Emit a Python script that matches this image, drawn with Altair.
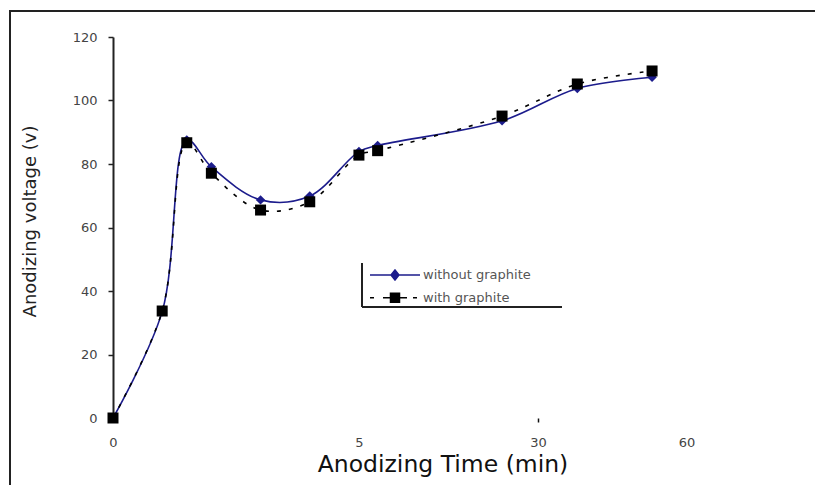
import altair as alt
import pandas as pd

# ---- data ----
# positions of the samples along the (non-linear) time axis, as drawn
time_pos = [0, 1, 1.5, 2, 3, 4, 5, 5.38, 7.91, 9.44, 10.96]
without_graphite = [0, 33.5, 87.6, 79.1, 68.7, 69.9, 83.9, 85.8, 93.6, 103.8, 107.3]
with_graphite = [0, 33.7, 86.7, 77.1, 65.5, 68.1, 82.8, 84.2, 95.1, 105.2, 109.3]
series_names = ["without graphite", "with graphite"]
x_tick_pos = [0, 5, 8.64, 11.66]
x_tick_labels = ["0", "5", "30", "60"]
y_ticks = [0, 20, 40, 60, 80, 100, 120]

NAVY = "#1c1c8c"
FONT = "DejaVu Sans"

rows = []
for t, a, b in zip(time_pos, without_graphite, with_graphite):
    rows.append({"t": t, "v": a, "series": series_names[0]})
    rows.append({"t": t, "v": b, "series": series_names[1]})
df = pd.DataFrame(rows)

label_expr = " : ".join(
    f"abs(datum.value - {p}) < 0.01 ? '{l}'" for p, l in zip(x_tick_pos, x_tick_labels)
) + " : ''"

x_enc = alt.X(
    "t:Q",
    scale=alt.Scale(domain=[0, 13.5], nice=False, zero=False),
    axis=alt.Axis(
        values=x_tick_pos,
        labelExpr=label_expr,
        labelFlush=False,
        domain=False,
        grid=False,
        tickSize=4,
        tickWidth=1.5,
        tickColor={"condition": {"test": "abs(datum.value - 8.64) < 0.01", "value": "#111"},
                   "value": "transparent"},
        labelFont=FONT,
        labelFontSize=13,
        labelColor="#444",
        labelPadding=14,
        title="Anodizing Time (min)",
        titleFont=FONT,
        titleFontSize=23.5,
        titleFontWeight="normal",
        titleColor="#111",
        titleX=329.5,
        titleY=53.7,
        titleAlign="center",
        titleBaseline="alphabetic",
    ),
)
y_enc = alt.Y(
    "v:Q",
    scale=alt.Scale(domain=[0, 120], nice=False),
    axis=alt.Axis(
        values=y_ticks,
        grid=False,
        domainColor="#222",
        domainWidth=2,
        tickColor="#222",
        tickWidth=1.5,
        tickSize=5,
        labelFont=FONT,
        labelFontSize=13,
        labelColor="#444",
        labelPadding=11,
        title="Anodizing voltage (v)",
        titleFont=FONT,
        titleFontSize=18,
        titleFontWeight="normal",
        titleColor="#222",
        titleAngle=270,
        titleX=-83,
        titleY=184,
        titleAlign="center",
        titleBaseline="middle",
    ),
)

base = alt.Chart(df)

line_wo = base.transform_filter(alt.datum.series == series_names[0]).mark_line(
    interpolate="catmull-rom", color=NAVY, strokeWidth=1.6
).encode(x=x_enc, y=y_enc)

line_w = base.transform_filter(alt.datum.series == series_names[1]).mark_line(
    interpolate="catmull-rom", color="black", strokeWidth=1.6, strokeDash=[4, 8]
).encode(x=x_enc, y=y_enc)

pts_wo = base.transform_filter(alt.datum.series == series_names[0]).mark_point(
    shape="diamond", filled=True, size=90, color=NAVY, opacity=1
).encode(x=x_enc, y=y_enc)

pts_w = base.transform_filter(alt.datum.series == series_names[1]).mark_point(
    shape="square", filled=True, size=121, color="black", opacity=1
).encode(x=x_enc, y=y_enc)

# legend symbols: line + marker drawn as one custom path
sym_wo = "M-5,0H5M0,-1L0.8,0L0,1L-0.8,0Z"
sym_w = "M-5,0H-4.2M-2.4,0H2.4M3.6,0H4.4M-0.9,-0.9H0.9V0.9H-0.9Z"

leg = alt.Legend(
    title=None,
    orient="none",
    legendX=275.5,
    legendY=231.5,
    padding=0,
    offset=0,
    symbolSize=100,
    symbolStrokeWidth=1.5,
    symbolOpacity=1,
    labelOffset=21.5,
    rowPadding=6.7,
    labelFont=FONT,
    labelFontSize=13,
    labelColor="#555",
)

legend_layer = base.transform_filter("false").mark_point(filled=True, opacity=1).encode(
    x=x_enc,
    y=y_enc,
    fill=alt.Fill("series:N", scale=alt.Scale(domain=series_names, range=[NAVY, "black"]), legend=leg),
    stroke=alt.Stroke("series:N", scale=alt.Scale(domain=series_names, range=[NAVY, "black"]), legend=leg),
    shape=alt.Shape("series:N", scale=alt.Scale(domain=series_names, range=[sym_wo, sym_w]), legend=leg),
)

# decorative frame (top and left edges) kept inside the canvas, and legend box borders
frame_top = base.mark_rect(color="#222", opacity=1).encode(
    x=alt.value(-104), x2=alt.value(702), y=alt.value(-27), y2=alt.value(-25)
)
frame_left = base.mark_rect(color="#222", opacity=1).encode(
    x=alt.value(-104), x2=alt.value(-102), y=alt.value(-27), y2=alt.value(448)
)
leg_left = base.mark_rule(color="#222", strokeWidth=1.5).encode(
    x=alt.value(249), y=alt.value(226), y2=alt.value(270)
)
leg_bottom = base.mark_rule(color="#222", strokeWidth=1.5).encode(
    x=alt.value(249), x2=alt.value(449), y=alt.value(270)
)
# blank strip along the right edge (the reference figure is open on that side)
right_blank = base.mark_rect(color="white", opacity=1).encode(
    x=alt.value(688), x2=alt.value(702), y=alt.value(-24), y2=alt.value(448)
)

chart = alt.layer(
    frame_top, frame_left, line_wo, line_w, pts_wo, pts_w, legend_layer, leg_left, leg_bottom,
    right_blank,
).properties(
    width=664,
    height=381,
    padding={"left": 113, "top": 37, "right": 38, "bottom": 67},
    autosize=alt.AutoSizeParams(type="none"),
    background="white",
).configure_view(stroke=None)

chart.save("out.html", embed_options={"renderer": "svg", "actions": False})
